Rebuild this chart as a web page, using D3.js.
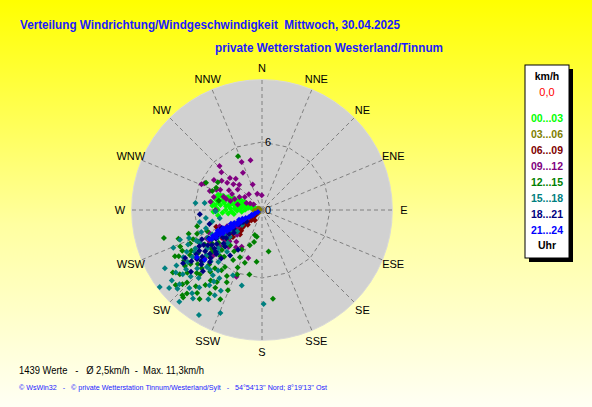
<!DOCTYPE html>
<html>
<head>
<meta charset="utf-8">
<script src="https://cdn.jsdelivr.net/npm/d3@7"></script>
<style>
    html, body { margin: 0; padding: 0; background: #fffff4; }
    #wind-chart { width: 592px; height: 407px; }
    text { font-family: "Liberation Sans", Arial, sans-serif; white-space: pre; }
</style>
</head>
<body>
<div id="wind-chart"></div>
<script>
///// DATA
const titleText = 'Verteilung Windrichtung/Windgeschwindigkeit  Mittwoch, 30.04.2025';
const stationText = 'private Wetterstation Westerland/Tinnum';
const summaryText = '1439 Werte   -   Ø 2,5km/h  -  Max. 11,3km/h';
const footerText = '© WsWin32   -   © private Wetterstation Tinnum/Westerland/Sylt   -   54°54\'13\'\' Nord; 8°19\'13\'\' Ost';

const dirLabels = ['N', 'NNE', 'NE', 'ENE', 'E', 'ESE', 'SE', 'SSE', 'S', 'SSW', 'SW', 'WSW', 'W', 'WNW', 'NW', 'NNW'];
const ringTicks = [0, 6];
const maxSpeed = 11.5;
const unitLabel = 'km/h';
const calmLabel = '0,0';
const hourLabels = ['00...03', '03...06', '06...09', '09...12', '12...15', '15...18', '18...21', '21...24'];
const hourUnit = 'Uhr';

// [direction in degrees, speed in km/h]
const h00_03 = [[287, 3.0], [276, 4.2], [292, 1.2], [294, 2.2], [266, 3.5], [280, 2.5], [289, 2.0], [284, 3.6], [291, 3.2],
    [278, 3.0], [287, 1.6], [282, 1.0], [293, 2.7], [273, 2.8], [270, 3.9], [289, 3.9], [285, 4.3], [279, 1.8], [292, 0.8],
    [283, 2.2], [288, 2.8], [275, 1.4], [295, 1.7], [281, 3.4], [290, 2.5], [268, 2.2], [285, 0.6], [290, 3.6], [277, 3.7],
    [288, 1.3], [272, 4.0], [295, 2.0], [284, 2.9], [280, 1.2], [264, 3.0], [286, 3.4], [286, 2.4], [283, 1.6], [290, 3.0],
    [279, 3.9], [276, 3.2], [273, 2.4], [270, 3.2], [267, 2.7], [282, 4.1], [288, 3.5], [292, 1.8], [286, 1.0], [280, 0.7],
    [274, 1.9], [271, 1.5], [278, 2.1], [284, 4.0], [287, 2.0], [262, 2.5], [265, 1.8], [281, 2.8], [289, 4.1], [275, 4.4],
    [268, 4.3], [263, 3.9], [279, 4.5]];
const h03_06 = [[260, 0.3], [275, 0.2], [250, 0.5], [285, 0.4], [240, 0.6], [265, 0.7], [230, 0.4], [295, 0.3]];
const h06_09 = [[226, 1.3], [215, 1.1], [250, 4.3], [235, 4.3], [230, 0.8], [232, 1.8], [228, 2.3], [234, 2.8], [231, 3.3],
    [229, 3.8], [236, 2.0], [233, 1.0], [227, 3.0], [225, 2.6], [232, 4.0], [238, 3.6], [230, 1.5], [224, 1.8], [236, 0.6],
    [240, 2.9], [234, 3.6], [229, 2.0], [237, 2.5], [231, 2.6], [235, 1.4], [227, 3.5], [239, 4.2], [233, 3.0], [228, 4.4],
    [222, 2.9]];
const h09_12 = [[347, 4.5], [337, 4.6], [313, 4.9], [293, 5.8], [308, 3.9], [312, 3.4], [318, 3.0], [301, 3.4], [344, 1.5],
    [359, 1.3], [307, 1.9], [292, 2.6], [287, 3.3], [283, 2.2], [294, 1.5], [303, 0.9], [333, 3.7], [294, 4.4], [295, 5.6],
    [270, 4.1], [243, 5.5], [239, 5.4], [229, 4.9], [219, 3.6], [209, 3.7], [196, 4.4], [201, 6.3], [236, 3.4], [242, 4.5],
    [245, 3.4], [227, 5.9], [242, 6.2], [300, 2.3], [289, 3.6], [234, 2.6], [238, 1.5], [231, 4.2], [225, 3.1], [306, 4.4],
    [315, 4.0], [320, 3.6], [310, 2.8], [298, 3.0], [296, 4.1], [302, 5.0], [290, 4.9], [285, 4.4], [299, 1.2], [320, 1.8],
    [340, 2.4], [286, 2.9], [279, 4.6], [316, 5.4], [233, 5.6], [237, 4.2], [247, 5.1], [222, 4.4], [215, 4.0], [249, 4.0],
    [241, 3.0], [226, 4.0], [230, 6.6]];
const h12_15 = [[336, 5.2], [296, 5.5], [302, 4.6], [296, 4.5], [291, 4.7], [282, 3.9], [254, 9.0], [251, 7.8], [242, 8.7],
    [196, 2.3], [191, 2.4], [194, 2.9], [199, 3.3], [171, 3.7], [173, 7.9], [191, 5.8], [201, 6.1], [203, 7.7], [205, 8.7],
    [212, 8.7], [217, 8.3], [223, 10.3], [232, 9.2], [222, 10.4], [224, 7.9], [214, 6.4], [206, 7.1], [205, 4.6], [210, 5.1],
    [198, 4.9], [256, 5.9], [249, 5.2], [233, 5.6], [222, 5.5], [234, 8.4], [220, 7.1], [222, 4.2], [186, 4.6], [228, 6.2],
    [236, 6.8], [230, 7.4], [226, 8.0], [238, 7.5], [240, 5.0], [244, 6.3], [218, 9.3], [227, 9.6], [231, 4.0], [237, 3.4],
    [229, 2.9], [212, 7.5], [219, 6.6], [235, 9.6], [245, 7.0], [225, 5.0], [213, 6.0], [216, 7.7], [221, 8.9], [226, 9.2],
    [230, 8.6], [233, 7.9], [237, 8.2], [240, 7.2], [243, 7.9], [247, 6.6], [250, 6.1], [224, 6.7], [219, 5.3], [227, 4.6],
    [233, 4.8], [239, 5.9], [236, 5.3], [230, 5.7], [226, 7.4], [208, 6.6], [215, 9.6], [222, 9.9], [229, 10.1], [211, 8.0],
    [203, 5.5], [207, 3.9], [214, 4.4], [241, 8.4], [246, 7.9], [252, 6.8]];
const h15_18 = [[276, 5.9], [277, 5.1], [259, 5.6], [250, 5.7], [233, 11.3], [232, 10.1], [228, 9.8], [222, 10.9], [211, 10.8],
    [202, 9.8], [179, 8.3], [223, 9.4], [239, 8.1], [250, 7.7], [245, 7.2], [228, 7.7], [227, 8.6], [195, 6.9], [204, 6.3],
    [217, 7.2], [229, 6.9], [220, 6.0], [220, 4.8], [268, 4.1], [259, 3.8], [230, 3.7], [229, 2.9], [235, 5.9], [240, 6.8],
    [215, 8.1], [236, 7.4], [232, 8.5], [238, 4.6], [234, 3.2], [226, 5.4], [243, 5.4], [231, 6.3], [224, 7.0], [219, 8.8],
    [237, 9.0], [233, 2.2], [241, 3.6], [228, 4.5], [247, 8.5], [211, 9.2], [214, 7.6], [218, 9.9], [223, 8.2], [227, 10.2],
    [231, 9.0], [235, 8.0], [238, 7.0], [242, 6.2], [245, 6.4], [249, 6.9], [225, 6.4], [221, 7.0], [216, 6.6], [233, 7.1],
    [239, 10.0], [230, 10.7], [212, 7.1], [209, 8.6], [226, 4.2], [236, 4.0], [244, 4.9], [252, 5.2], [257, 4.5], [262, 5.0],
    [241, 7.6], [234, 9.4], [220, 9.6], [207, 8.0], [229, 5.1], [231, 3.0]];
const h18_21 = [[266, 5.5], [255, 4.8], [238, 8.0], [232, 6.7], [225, 6.5], [231, 5.4], [229, 4.5], [215, 4.9], [211, 4.1],
    [233, 1.7], [246, 3.9], [234, 6.2], [234, 7.7], [236, 3.0], [238, 2.4], [235, 4.2], [233, 5.0], [237, 5.7], [230, 6.0],
    [228, 7.2], [236, 7.0], [240, 6.4], [239, 3.5], [237, 2.0], [234, 3.6], [231, 3.2], [226, 5.6], [224, 7.5], [229, 8.3],
    [241, 4.4], [232, 4.0], [235, 5.4], [239, 6.0], [228, 5.5], [233, 7.2], [236, 8.4], [230, 7.0], [227, 6.2], [238, 4.8],
    [242, 5.3], [225, 4.6], [220, 5.6], [244, 5.9], [237, 6.6]];
const h21_24 = [[244, 0.4], [243, 0.7], [245, 1.0], [242, 1.3], [244, 1.6], [246, 1.9], [241, 2.1], [243, 2.4], [245, 2.7],
    [240, 2.9], [242, 3.2], [244, 3.4], [239, 3.6], [241, 3.9], [243, 4.1], [240, 4.3], [241, 4.6], [242, 4.9], [240, 5.1],
    [241, 5.3], [246, 3.0], [247, 2.2], [245, 3.8], [239, 4.7], [241, 1.1], [240, 2.5], [234, 7.1], [229, 6.7],
    [240, 0.9], [239, 3.3], [243, 4.5], [242, 1.8], [240, 2.4], [244, 2.8], [241, 3.0], [239, 4.0], [243, 3.7], [245, 4.3]];

const hourSeries = [h00_03, h03_06, h06_09, h09_12, h12_15, h15_18, h18_21, h21_24];
const hourColors = ['#00ff00', '#808000', '#800000', '#800080', '#008000', '#008080', '#000080', '#0000ff'];

///// WIND SCATTER
class WindScatter {
    constructor(el) {
        const vis = this;
        vis.el = el;
        vis.init();
    }

    init() {
        const vis = this;
        vis.chartDiv = document.getElementById(vis.el);
        vis.chartDiv.innerHTML = '';

        vis.width = 592;
        vis.height = 407;

        // MAIN SVG
        vis.svg = d3.select(vis.chartDiv).append('svg')
            .attr('width', vis.width)
            .attr('height', vis.height);

        // BACKGROUND GRADIENT
        const grad = vis.svg.append('defs').append('linearGradient')
            .attr('id', 'bg-grad')
            .attr('x1', 0).attr('y1', 0).attr('x2', 0).attr('y2', 1);
        grad.append('stop').attr('offset', '0%').attr('stop-color', '#ffff00');
        grad.append('stop').attr('offset', '55%').attr('stop-color', '#ffffa0');
        grad.append('stop').attr('offset', '100%').attr('stop-color', '#fffff4');

        vis.svg.append('rect')
            .attr('width', vis.width)
            .attr('height', vis.height)
            .attr('fill', 'url(#bg-grad)');

        vis.redraw();
    }

    redraw() {
        const vis = this;
        const cx = 262, cy = 210;

        // RADIUS SCALE
        const r = d3.scaleLinear().domain([0, 6]).range([0, 68]);
        const angle = d3.scaleLinear().domain([0, 360]).range([0, 2 * Math.PI]);

        const g = vis.svg.append('g').attr('transform', `translate(${cx}, ${cy})`);

        // DISC
        g.append('circle')
            .attr('r', r(maxSpeed))
            .attr('fill', '#d1d1d1')
            .attr('stroke', '#d9d9d9');

        // RADIAL GRID
        const dirAngles = dirLabels.map((d, i) => i * 360 / dirLabels.length);
        g.selectAll('.spoke')
            .data(dirAngles)
            .enter()
            .append('line')
            .attr('class', 'spoke')
            .attr('x1', 0).attr('y1', 0)
            .attr('x2', d => d3.pointRadial(angle(d), r(maxSpeed))[0])
            .attr('y2', d => d3.pointRadial(angle(d), r(maxSpeed))[1])
            .attr('stroke', '#808080')
            .attr('stroke-dasharray', '4,3');

        // RING AT 6
        const ring = d3.lineRadial()
            .angle(d => angle(d))
            .radius(r(ringTicks[1]))
            .curve(d3.curveLinearClosed);
        g.append('path')
            .attr('d', ring(dirAngles))
            .attr('fill', 'none')
            .attr('stroke', '#808080')
            .attr('stroke-dasharray', '4,3');

        // RING TICK LABELS
        g.selectAll('.ring-label')
            .data(ringTicks)
            .enter()
            .append('text')
            .attr('class', 'ring-label')
            .attr('x', 6)
            .attr('y', d => -r(d) + 4)
            .attr('text-anchor', 'middle')
            .style('font-size', '11px')
            .text(d => d);

        // DIRECTION LABELS
        g.selectAll('.dir-label')
            .data(dirLabels)
            .enter()
            .append('text')
            .attr('class', 'dir-label')
            .attr('x', (d, i) => d3.pointRadial(angle(dirAngles[i]), 142)[0])
            .attr('y', (d, i) => d3.pointRadial(angle(dirAngles[i]), 142)[1] + 4)
            .attr('text-anchor', 'middle')
            .style('font-size', '11px')
            .text(d => d);

        // POINTS
        const diamond = 'M0,-3L3,0L0,3L-3,0Z';
        hourSeries.forEach((series, k) => {
            g.append('g')
                .selectAll('path')
                .data(series)
                .enter()
                .append('path')
                .attr('d', diamond)
                .attr('transform', d => {
                    const p = d3.pointRadial(angle(d[0]), r(d[1]));
                    return `translate(${p[0]}, ${p[1]})`;
                })
                .attr('fill', hourColors[k]);
        });

        // TITLE
        vis.svg.append('text')
            .attr('x', 20).attr('y', 29)
            .attr('textLength', 380).attr('lengthAdjust', 'spacingAndGlyphs')
            .style('font-size', '13px').style('font-weight', 'bold')
            .attr('fill', '#1a1aff')
            .text(titleText);

        vis.svg.append('text')
            .attr('x', 215).attr('y', 52)
            .attr('textLength', 228).attr('lengthAdjust', 'spacingAndGlyphs')
            .style('font-size', '13px').style('font-weight', 'bold')
            .attr('fill', '#1a1aff')
            .text(stationText);

        // FOOTER
        vis.svg.append('text')
            .attr('x', 19).attr('y', 374)
            .attr('textLength', 185).attr('lengthAdjust', 'spacingAndGlyphs')
            .style('font-size', '11px')
            .text(summaryText);

        vis.svg.append('text')
            .attr('x', 19).attr('y', 390)
            .attr('textLength', 308).attr('lengthAdjust', 'spacingAndGlyphs')
            .style('font-size', '8px')
            .attr('fill', '#1a1aff')
            .text(footerText);

        vis.drawLegend();
    }

    drawLegend() {
        const vis = this;
        const lx = 525, ly = 65, lw = 44, lh = 193;
        const lg = vis.svg.append('g');

        // SHADOW + BOX
        lg.append('rect')
            .attr('x', lx + 4).attr('y', ly + 4)
            .attr('width', lw).attr('height', lh)
            .attr('fill', '#000');
        lg.append('rect')
            .attr('x', lx).attr('y', ly)
            .attr('width', lw).attr('height', lh)
            .attr('fill', '#fff')
            .attr('stroke', '#000');

        const mid = lx + lw / 2;
        lg.append('text')
            .attr('x', mid).attr('y', 79.5)
            .attr('text-anchor', 'middle')
            .style('font-size', '10.5px').style('font-weight', 'bold')
            .text(unitLabel);
        lg.append('text')
            .attr('x', mid).attr('y', 95.5)
            .attr('text-anchor', 'middle')
            .style('font-size', '11px')
            .attr('fill', '#ff0000')
            .text(calmLabel);

        const y = d3.scaleLinear().domain([0, hourLabels.length]).range([122, 122 + 15.95 * hourLabels.length]);
        lg.selectAll('.legend-hour')
            .data(hourLabels)
            .enter()
            .append('text')
            .attr('class', 'legend-hour')
            .attr('x', mid)
            .attr('y', (d, i) => y(i))
            .attr('text-anchor', 'middle')
            .style('font-size', '10.5px').style('font-weight', 'bold')
            .attr('fill', (d, i) => hourColors[i])
            .text(d => d);

        lg.append('text')
            .attr('x', mid).attr('y', y(hourLabels.length) - 0.5)
            .attr('text-anchor', 'middle')
            .style('font-size', '10.5px').style('font-weight', 'bold')
            .text(hourUnit);
    }
}

new WindScatter('wind-chart');
</script>
</body>
</html>
